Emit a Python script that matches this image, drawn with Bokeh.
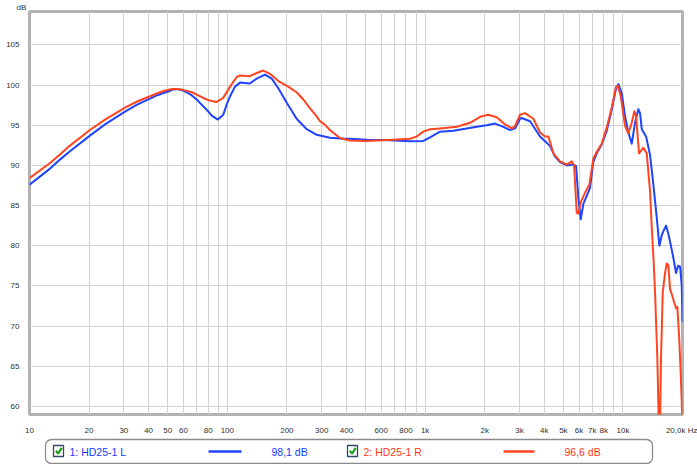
from bokeh.plotting import figure
from bokeh.models import Range1d, FixedTicker
from bokeh.layouts import column
from bokeh.embed import file_html
from bokeh.resources import INLINE
from bokeh.core.properties import value

# ---------------- data ----------------
freq_L = [10, 12.7, 14.3, 15.9, 20.2, 24.1, 30.4, 35.0, 40.7, 43.9, 47.6, 50.3, 53.2, 56.0, 59.7,
          62.3, 66.2, 70.0, 75.6, 80.2, 83.4, 89.5, 95.4, 99.3, 103.2, 109.4, 116, 130, 140.8,
          155.1, 167.7, 181.1, 199.7, 224, 252, 283, 330, 372, 417, 507, 615, 839, 979, 1059, 1189,
          1388, 1623, 1824, 2048, 2257, 2485, 2687, 2848, 3019, 3070, 3391, 3810, 4040, 4280, 4537,
          4808, 5199, 5613, 5793, 5950, 6118, 6306, 6561, 6818, 7085, 7372, 7810, 8280, 8778, 9229,
          9480, 9860, 10250, 10650, 11080, 11510, 11960, 12200, 12450, 13090, 13710, 14250, 14820, 15280, 15710,
          16140, 16520, 16960, 17450, 17980, 18560, 19000, 19450, 19830, 20000]
db_L = [87.6, 89.6, 90.75, 91.7, 93.7, 95.1, 96.7, 97.55, 98.3, 98.7, 99.0, 99.2, 99.45, 99.5, 99.3,
        99.1, 98.7, 98.2, 97.35, 96.7, 96.2, 95.7, 96.3, 97.6, 98.6, 99.8, 100.3, 100.2, 100.8,
        101.3, 100.8, 99.6, 97.8, 95.8, 94.5, 93.8, 93.45, 93.35, 93.3, 93.2, 93.15, 93.0, 93.05, 93.5, 94.2,
        94.3, 94.6, 94.8, 95.0, 95.2, 94.8, 94.4, 94.6, 95.8, 95.9, 95.5, 93.6, 93.0, 92.4, 91.1,
        90.4, 90.0, 90.1, 89.9, 86.0, 83.3, 85.2, 86.2, 87.2, 90.45, 91.5, 92.6, 94.3, 96.95, 99.6,
        100.1, 99.0, 96.1, 94.1, 92.7, 95.3, 97.0, 96.5, 94.5, 93.6, 91.3, 87.6, 83.5, 80.0, 81.3,
        82.0, 82.5, 81.5, 80.1, 78.5, 76.6, 77.5, 77.4, 75.0, 70.5]

freq_R = [10, 12.7, 14.3, 15.9, 20.2, 24.1, 30.4, 35.0, 40.7, 43.9, 47.6, 50.3, 53.2, 56.0, 59.7,
          66.2, 70.0, 78.7, 83.4, 88.4, 95.4, 103.2, 111.6, 116, 130, 140.8, 152, 164.4, 181.1,
          203, 224, 242.3, 262, 283, 294, 310, 330, 371, 417, 507, 691, 839, 907, 979,
          1059, 1189, 1444, 1687, 1895, 2087, 2301, 2535, 2741, 2848, 3019, 3200, 3524, 3810, 4040,
          4200, 4448, 4808, 5199, 5509, 5659, 5840, 5950, 6118, 6432, 6762, 7085, 7372, 7810, 8280,
          8778, 9229, 9414, 9748, 10250, 10650, 11080, 11420, 11650, 12060, 12680, 13190, 13710, 13980, 14250,
          14530, 14920, 15300, 15580, 15890, 16320, 16650, 16960, 17300, 17650, 18130, 18560, 18840, 19280, 19600,
          20000]
db_R = [88.4, 90.3, 91.4, 92.4, 94.4, 95.7, 97.2, 97.95, 98.6, 98.95, 99.25, 99.4, 99.5, 99.5, 99.4,
        99.1, 98.8, 98.2, 98.0, 97.9, 98.4, 99.8, 101.0, 101.2, 101.1, 101.5, 101.8, 101.4, 100.5,
        99.8, 99.1, 98.2, 97.1, 96.1, 95.5, 95.1, 94.4, 93.4, 93.1, 93.05, 93.2, 93.3, 93.6, 94.2,
        94.5, 94.6, 94.8, 95.3, 96.05, 96.3, 96.0, 95.1, 94.6, 94.9, 96.3, 96.5, 95.8, 94.1, 93.6,
        93.6, 91.5, 90.5, 90.1, 90.5, 90.0, 84.1, 84.0, 85.4, 86.6, 87.6, 90.85, 91.7, 92.7, 94.7,
        97.2, 99.8, 99.9, 98.6, 94.9, 94.0, 95.3, 96.75, 96.1, 91.5, 92.2, 91.5, 86.8, 82.3, 78.7,
        74.2, 66.1, 54.0, 66.1, 74.2, 76.6, 77.8, 77.6, 74.6, 74.0, 73.0, 72.2, 72.4, 68.1, 64.0,
        58.0]

x_ticks = [10, 20, 30, 40, 50, 60, 80, 100, 200, 300, 400, 600, 800,
           1000, 2000, 3000, 4000, 5000, 6000, 7000, 8000, 10000, 20000]
x_tick_labels = ["10", "20", "30", "40", "50", "60", "80", "100", "200", "300", "400", "600", "800",
                 "1k", "2k", "3k", "4k", "5k", "6k", "7k", "8k", "10k", "20,0k Hz"]
x_grid = [10, 20, 30, 40, 50, 60, 70, 80, 90, 100, 200, 300, 400, 500, 600, 700, 800, 900,
          1000, 2000, 3000, 4000, 5000, 6000, 7000, 8000, 9000, 10000, 20000]
y_ticks = [60, 65, 70, 75, 80, 85, 90, 95, 100, 105]
y_unit = "dB"

legend_names = ["1: HD25-1 L", "2: HD25-1 R"]
legend_levels = ["98,1 dB", "96,6 dB"]

BLUE = "#1f44ff"
RED = "#ff4420"
BLUE_T = "#1438ff"
RED_T = "#ff3814"
FONT = "Liberation Sans"
TICK_SIZE = "8px"

# ---------------- main plot ----------------
p = figure(width=697, height=437, x_axis_type="log",
           x_range=Range1d(10, 20000), y_range=Range1d(59.0, 109.15),
           output_backend="svg", toolbar_location=None,
           min_border_left=29, min_border_right=15, min_border_top=0, min_border_bottom=16)
p.background_fill_color = "white"
p.border_fill_color = "white"
p.outline_line_color = "#b2b2b2"
p.outline_line_width = 3

p.title.text = y_unit
p.title.align = "left"
p.title.offset = -13
p.title.standoff = 0
p.title.text_font = FONT
p.title.text_font_size = TICK_SIZE
p.title.text_font_style = "normal"
p.title.text_color = "#303030"

p.xaxis.ticker = FixedTicker(ticks=x_ticks)
p.xaxis.major_label_overrides = {t: s for t, s in zip(x_ticks, x_tick_labels)}
p.yaxis.ticker = FixedTicker(ticks=y_ticks)
for ax in (p.xaxis[0], p.yaxis[0]):
    ax.axis_line_color = None
    ax.major_tick_line_color = None
    ax.minor_tick_line_color = None
    ax.major_label_text_font = FONT
    ax.major_label_text_font_size = TICK_SIZE
    ax.major_label_text_color = "#303030"
p.xaxis.major_label_standoff = 5
p.yaxis.major_label_standoff = 4

p.xgrid.ticker = FixedTicker(ticks=x_grid)
p.grid.grid_line_color = "#d2d2d2"
p.grid.grid_line_width = 1

p.line(freq_L, db_L, line_color=BLUE, line_width=2, line_join="round")
p.line(freq_R, db_R, line_color=RED, line_width=2, line_join="round")

# ---------------- legend strip (page-pixel coordinates) ----------------
lg = figure(width=697, height=27, x_range=Range1d(29, 682), y_range=Range1d(27, 0),
            x_axis_type=None, y_axis_type=None, output_backend="svg", toolbar_location=None,
            min_border_left=29, min_border_right=15, min_border_top=0, min_border_bottom=0,
            outline_line_color=None)
lg.background_fill_color = "white"
lg.border_fill_color = "white"
lg.quad(left=[45], right=[652], top=[2], bottom=[26], border_radius=6,
        fill_color="white", line_color="#8a8a8a", line_width=1.3)
lg.quad(left=[53, 347], right=[63, 357], top=[8, 8], bottom=[19, 19],
        fill_color="white", line_color="#2e4a68", line_width=1.3)
lg.multi_line(xs=[[55.3, 57.6, 61.2], [349.3, 351.6, 355.2]],
              ys=[[13.3, 16.1, 10.3], [13.3, 16.1, 10.3]],
              line_color="#1e9e1e", line_width=2.2)
lg.segment(x0=[208, 503], y0=[14, 14], x1=[241, 534], y1=[14, 14],
           line_color=[BLUE, RED], line_width=2.5)
lg.text(x=[69, 271, 363, 564], y=[14, 14, 14, 14],
        text=[legend_names[0], legend_levels[0], legend_names[1], legend_levels[1]],
        text_color=[BLUE_T, BLUE_T, RED_T, RED_T],
        text_font=value(FONT), text_font_size=value("10.5px"),
        text_baseline="middle", text_align="left")

layout = column(p, lg, spacing=0)
open("out.html", "w").write(file_html(layout, INLINE))
